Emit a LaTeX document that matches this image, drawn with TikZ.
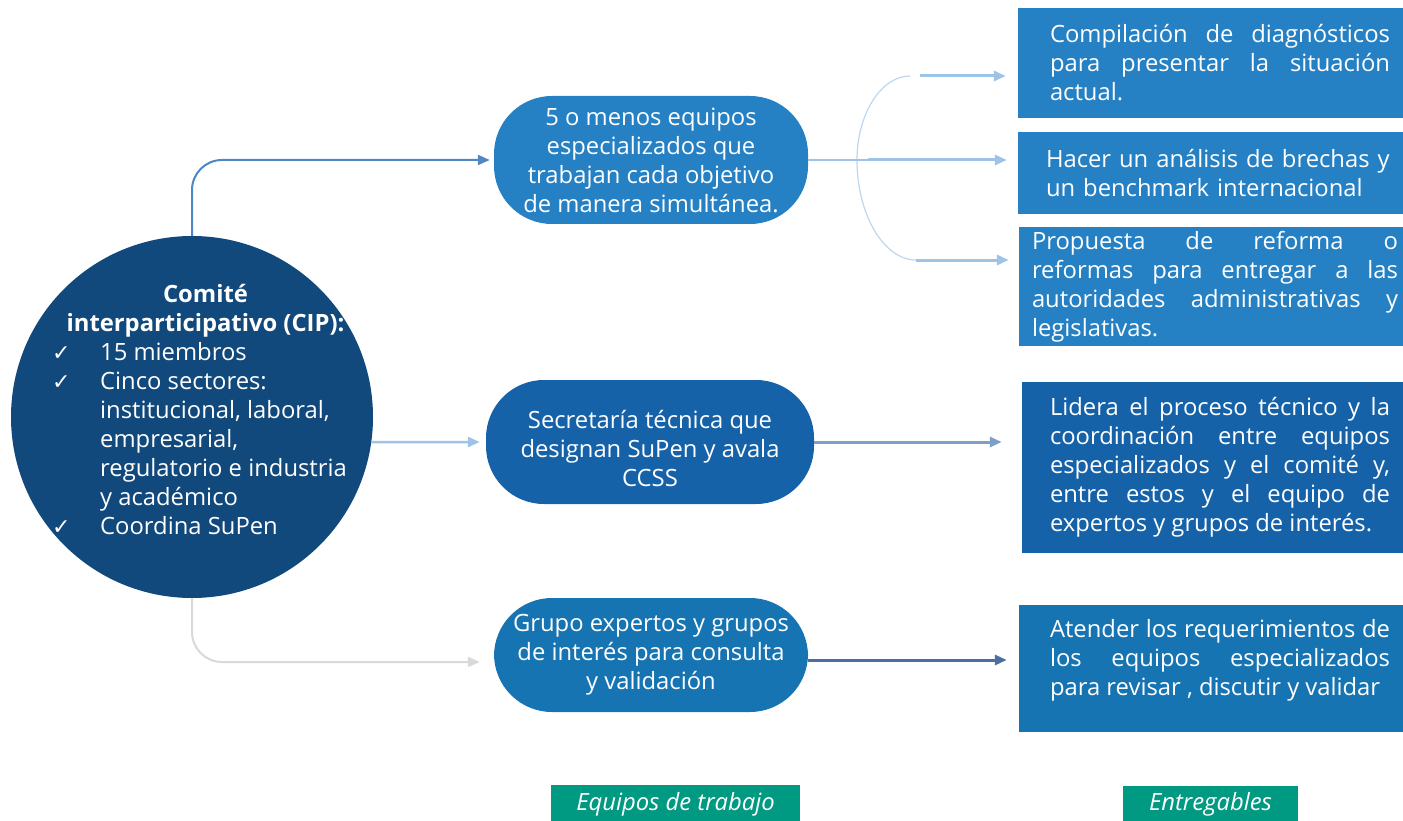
\documentclass[tikz,border=0pt]{standalone}
\usepackage{fontspec}
\setmainfont{Open Sans}
\newfontfamily\symfont{DejaVu Sans}
\usetikzlibrary{arrows.meta}
\definecolor{cipblue}{HTML}{11497C}
\definecolor{lightteam}{HTML}{2581C4}
\definecolor{darkteam}{HTML}{1562A9}
\definecolor{midteam}{HTML}{1674B2}
\definecolor{labelgreen}{HTML}{009982}
\definecolor{linetop}{HTML}{4F87C4}
\definecolor{linemid}{HTML}{9DC3E6}
\definecolor{linelow}{HTML}{D9D9D9}
\definecolor{linebrk}{HTML}{BDD7EE}
\definecolor{linesec}{HTML}{7F9FCB}
\definecolor{linegrp}{HTML}{4A6FA0}
\newcommand\cipcheck{{\symfont\fontsize{22}{29}\selectfont ✓}}
\hyphenpenalty=10000
\exhyphenpenalty=10000
\tolerance=10000
\hbadness=10000
\begin{document}
\begin{tikzpicture}[x=1pt,y=-1pt,
	every node/.style={font=\fontsize{23.8}{29}\selectfont, text=white, inner sep=0pt},
	team/.style={fill=#1, rounded corners=58pt, minimum width=314pt, minimum height=128pt, align=center},
	deliv/.style={fill=#1, rectangle, align=justify},
	tag/.style={fill=labelgreen, minimum height=38pt, font=\fontsize{23.8}{29}\selectfont\itshape},
	link/.style={line width=#1, -{Triangle[length=12pt,width=10pt]}}]
	\useasboundingbox (0,0) rectangle (1403,821);
	% comite
	\node[circle, fill=cipblue, minimum size=362pt] (cip) at (192,417) {};
	\node[anchor=base west] (cipbody) at (52,302) {\begin{tabular}[t]{@{}p{48pt}@{}l@{}}
		\multicolumn{2}{@{\hspace{12pt}}c@{}}{\bfseries Comité}\\
		\multicolumn{2}{@{\hspace{12pt}}c@{}}{\bfseries interparticipativo (CIP):}\\
		\cipcheck & 15 miembros\\
		\cipcheck & Cinco sectores:\\
		 & institucional, laboral,\\
		 & empresarial,\\
		 & regulatorio e industria\\
		 & y académico\\
		\cipcheck & Coordina SuPen
	\end{tabular}};
	% equipos de trabajo
	\node[team=lightteam] (team1) at (651,160) {5 o menos equipos\\especializados que\\trabajan cada objetivo\\de manera simultánea.};
	\node[team=darkteam, minimum width=328pt, minimum height=124pt] (team2) at (650,442) {\rule{0pt}{32pt}Secretaría técnica que\\designan SuPen y  avala\\CCSS};
	\node[team=midteam, minimum height=114pt] (team3) at (651,655) {Grupo expertos y grupos\\de interés para consulta\\y validación};
	% entregables
	\node[deliv=lightteam, text width=340pt, minimum width=404pt, minimum height=110pt] (box1) at (1220,63) {Compilación de diagnósticos\linebreak para presentar la situación\linebreak actual.};
	\node[deliv=lightteam, text width=345pt, minimum width=401pt, minimum height=82pt, align=left] (box2) at (1218.5,173) {Hacer un análisis de brechas y\\un benchmark internacional};
	\node[deliv=lightteam, text width=366pt, minimum width=392pt, minimum height=119pt] (box3) at (1215,286.5) {Propuesta de reforma o\linebreak reformas para entregar a las\linebreak autoridades administrativas y\linebreak legislativas.};
	\node[deliv=darkteam, text width=340pt, minimum width=396pt, minimum height=171pt] (box4) at (1220,467.5) {Lidera el proceso técnico y la\linebreak coordinación entre equipos\linebreak especializados y el comité y,\linebreak entre estos y el equipo de\linebreak expertos y grupos de interés.};
	\node[deliv=midteam, text width=340pt, minimum width=402pt, minimum height=127pt] (box5) at (1220,668.5) {Atender los requerimientos de\linebreak los equipos especializados\linebreak para revisar , discutir y validar\rule[-22pt]{0pt}{22pt}};
	% etiquetas
	\node[tag, minimum width=249pt] (tagteams) at (675.5,804) {Equipos de trabajo};
	\node[tag, minimum width=175pt] (tagdeliv) at (1210.5,804.5) {Entregables};
	% conectores del comite
	\draw[link=2pt, linetop, rounded corners=30pt, shorten >=4pt] (cip.north) |- (team1.west);
	\draw[link=2.5pt, linemid, shorten >=6pt] (cip.-8) -- (team2.west);
	\draw[link=2pt, linelow, rounded corners=30pt, shorten >=14pt] (cip.south) |- ([yshift=-7pt]team3.west);
	% llave hacia los entregables
	\coordinate (brk1) at (910,76);
	\coordinate (brk2) at (868,160);
	\coordinate (brk3) at (916,260);
	\draw[linebrk, line width=1.2pt] (brk1) .. controls (881,76) and (857,114) .. (857,160) .. controls (857,215) and (884,260) .. (brk3);
	\draw[linemid, line width=1.2pt] (team1.east) -- (brk2);
	\draw[link=3pt, linemid, shorten >=12pt] ([xshift=10pt]brk1) -- (brk1 -| box1.west);
	\draw[link=3pt, linemid, shorten >=11pt] (brk2) -- (brk2 -| box2.west);
	\draw[link=3pt, linemid, shorten >=10pt] (brk3) -- (brk3 -| box3.west);
	\draw[link=3pt, linesec, shorten >=20pt] (team2.east) -- (team2.east -| box4.west);
	\draw[link=3pt, linegrp, shorten >=12pt] ([yshift=-5pt]team3.east) -- ([yshift=-5pt]team3.east -| box5.west);
\end{tikzpicture}
\end{document}
